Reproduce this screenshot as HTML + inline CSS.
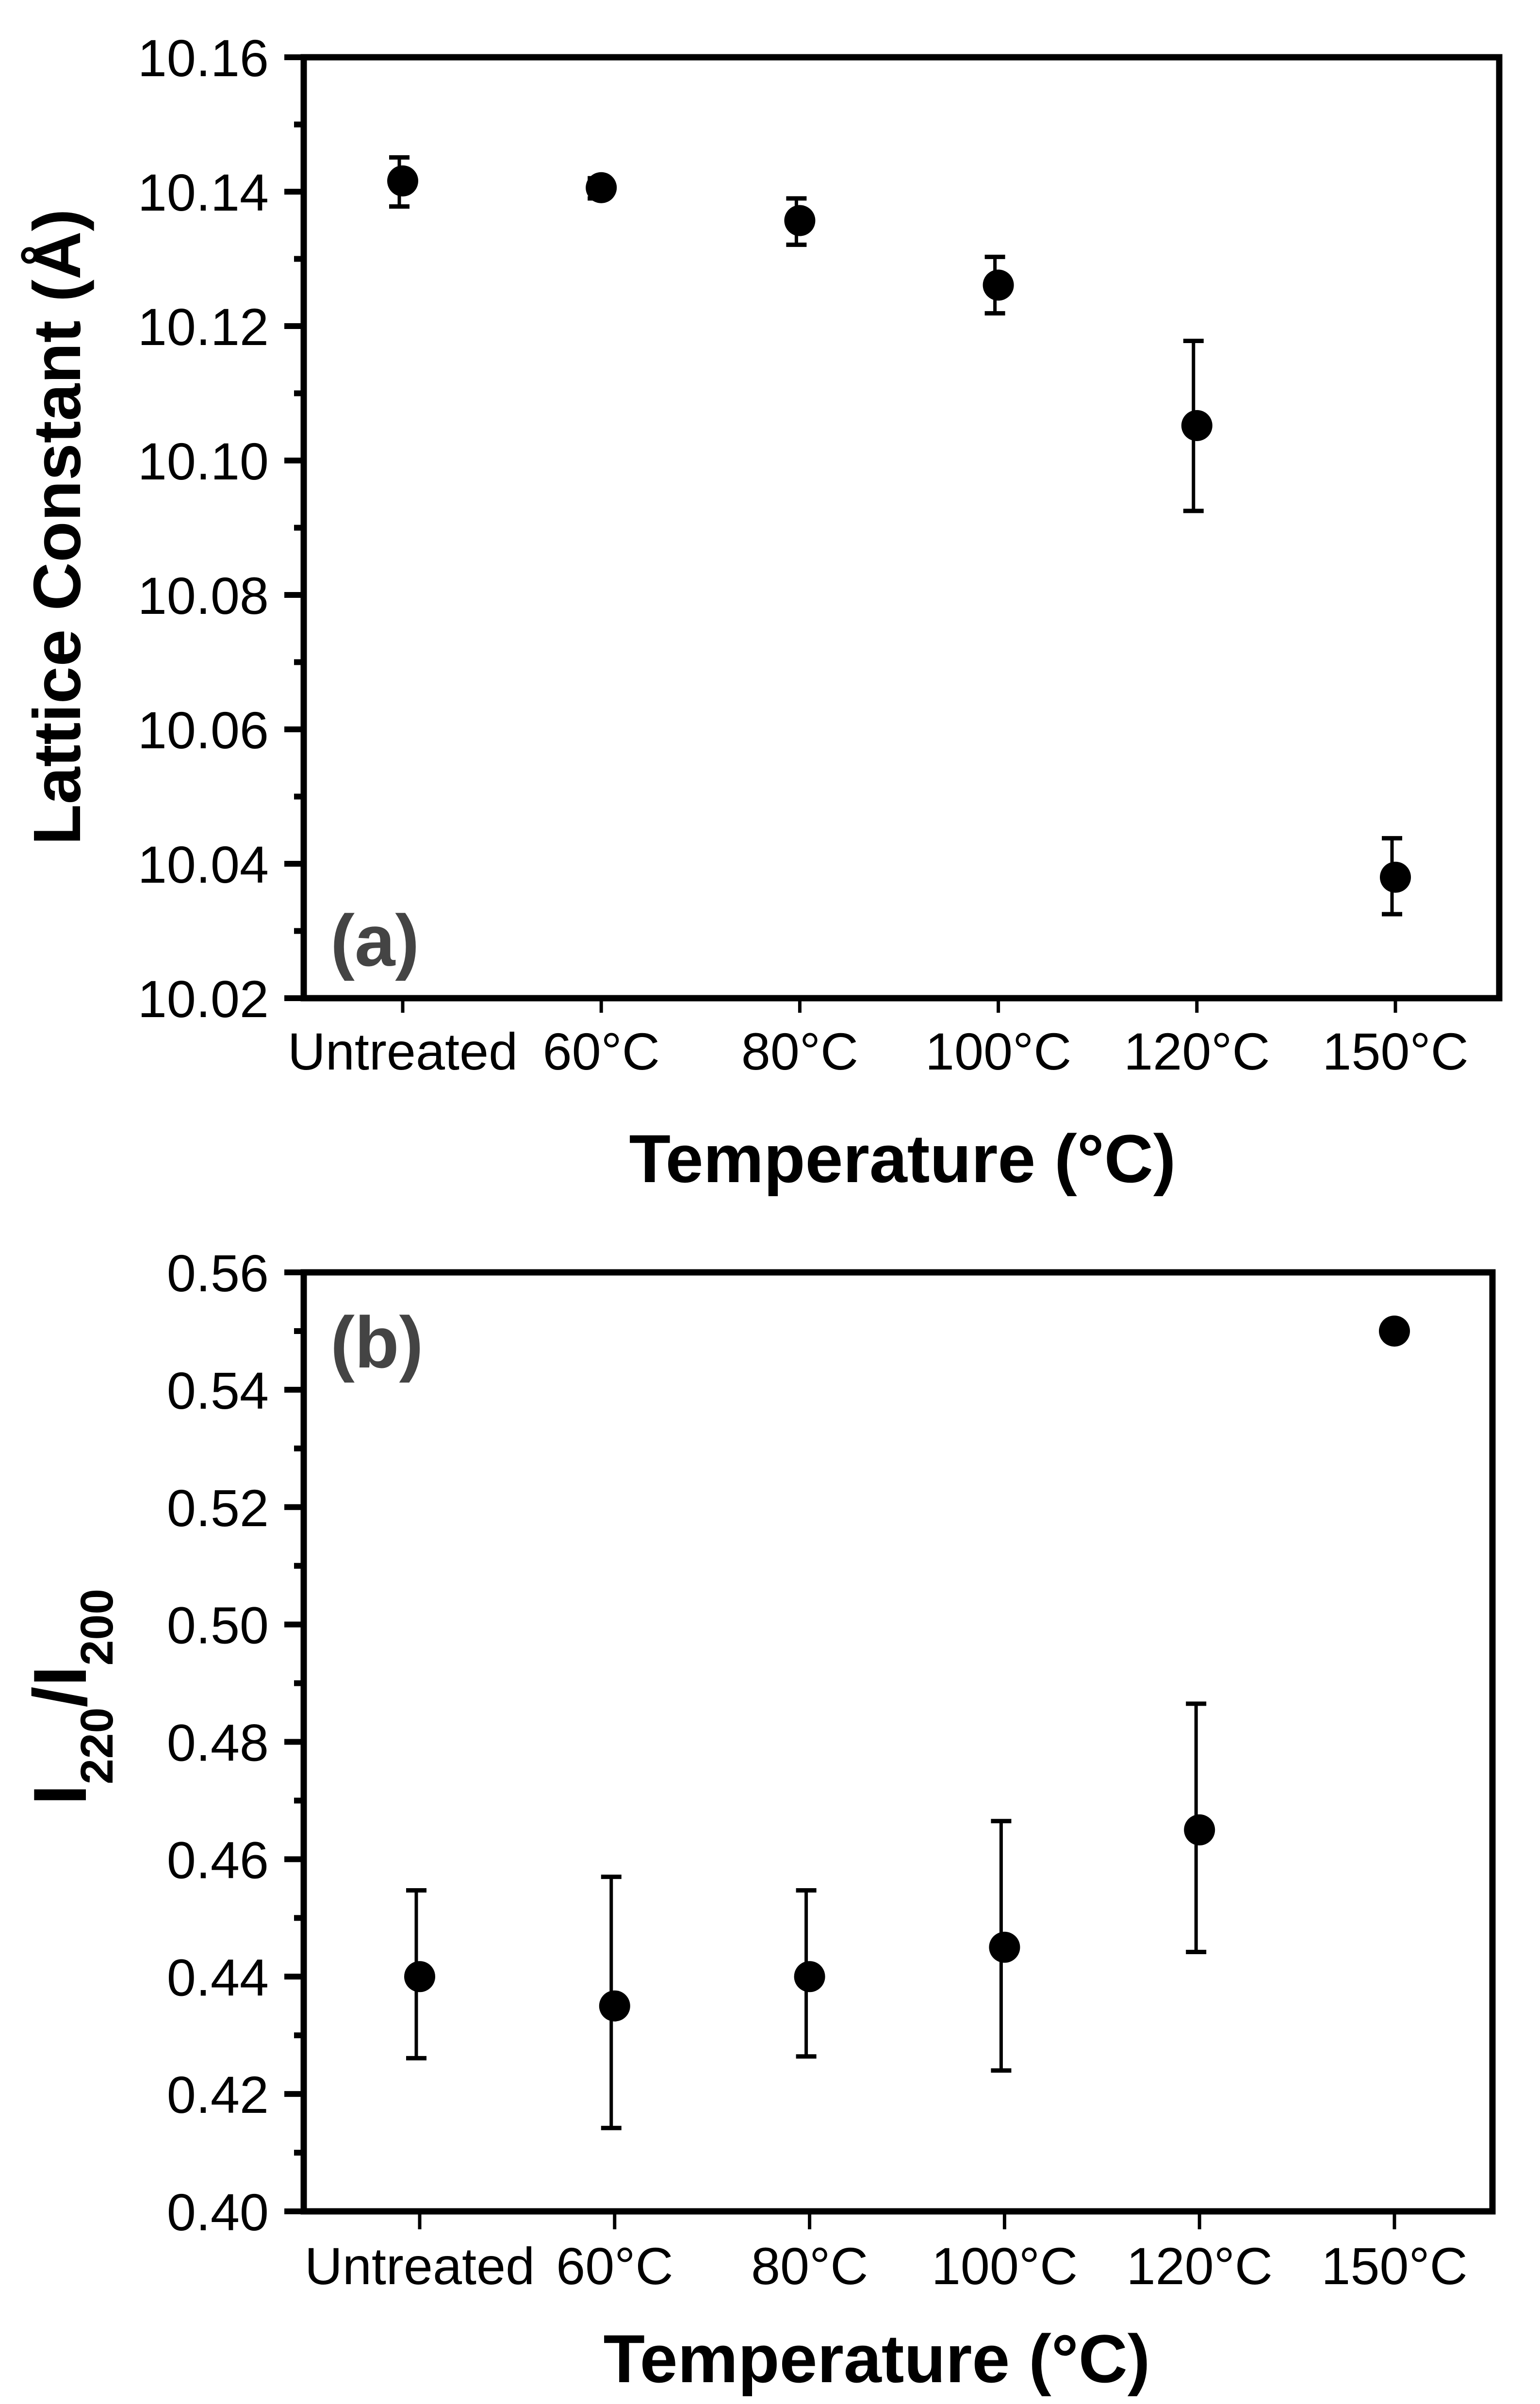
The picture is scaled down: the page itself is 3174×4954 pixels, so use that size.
<!DOCTYPE html>
<html><head><meta charset="utf-8"><style>
html,body{margin:0;padding:0;background:#fff;}
svg{display:block;}
text{font-family:"Liberation Sans",Arial,sans-serif;}
</style></head><body>
<svg id="chart" width="3174" height="4954" viewBox="0 0 3174 4954" xmlns="http://www.w3.org/2000/svg">
<rect width="3174" height="4954" fill="#fff"/>
<g id="pa"></g>
<g id="pb"></g>
<text transform="translate(165,1086) rotate(-90)" text-anchor="middle" font-size="138" font-weight="bold">Lattice Constant (Å)</text>
<text transform="translate(177,3497) rotate(-90)" text-anchor="middle" font-size="155" font-weight="bold">I<tspan font-size="95" dy="55">220</tspan><tspan dy="-55">/I</tspan><tspan font-size="95" dy="55">200</tspan></text>
</svg>
<script>
const categories = ["Untreated","60°C","80°C","100°C","120°C","150°C"];
const latticeValues = [10.1416,10.1406,10.1357,10.1261,10.1052,10.0380];
const latticeErrUp = [10.1451,10.1420,10.1390,10.1303,10.1178,10.0438];
const latticeErrDown = [10.1378,10.1390,10.1321,10.1219,10.0925,10.0325];
const latticeTicks = ["10.02","10.04","10.06","10.08","10.10","10.12","10.14","10.16"];
const ratioValues = [0.440,0.435,0.440,0.445,0.465,0.550];
const ratioErrUp = [0.4547,0.4570,0.4547,0.4665,0.4865,null];
const ratioErrDown = [0.4261,0.4142,0.4264,0.4240,0.4442,null];
const ratioTicks = ["0.40","0.42","0.44","0.46","0.48","0.50","0.52","0.54","0.56"];

const NS="http://www.w3.org/2000/svg";
function mk(parent,tag,attrs){const e=document.createElementNS(NS,tag);for(const k in attrs)e.setAttribute(k,attrs[k]);parent.appendChild(e);return e;}

function panel(g,cfg){
  const {L,R,T,B,x0,dx,ymin,ymax,ticks,vals,up,dn,tickLen,labelBase,titleBase,titleX,letter,letterY} = cfg;
  const yS=v=>B-(v-ymin)/(ymax-ymin)*(B-T);
  const xS=i=>x0+i*dx;
  const frame=mk(g,'rect',{x:L,y:T,width:R-L,height:B-T,fill:'none',stroke:'#000','stroke-width':13});
  
  
  const n=ticks.length;
  for(let i=0;i<n;i++){
    const v=parseFloat(ticks[i]);const y=yS(v);
    const t=mk(g,'line',{x1:L-40,x2:L,y1:y,y2:y,stroke:'#000','stroke-width':12});
    
    
    const lb=mk(g,'text',{x:L-72,y:y+39,'text-anchor':'end','font-size':108});
    lb.textContent=ticks[i];
    
    
    if(i<n-1){
      const ym=yS(v+(parseFloat(ticks[1])-parseFloat(ticks[0]))/2);
      const m=mk(g,'line',{x1:L-20,x2:L,y1:ym,y2:ym,stroke:'#000','stroke-width':12});
      
      
    }
  }
  categories.forEach((c,i)=>{
    const x=xS(i);
    const t=mk(g,'line',{x1:x,x2:x,y1:B,y2:B+tickLen,stroke:'#000','stroke-width':7});
    
    
    const lb=mk(g,'text',{x:x,y:labelBase,'text-anchor':'middle','font-size':108});
    lb.textContent=c;
    
    
    if(up[i]!=null){
      const e=mk(g,'line',{x1:x-7,x2:x-7,y1:yS(up[i]),y2:yS(dn[i]),stroke:'#000','stroke-width':7});
      
      
      [up[i],dn[i]].forEach(v=>{
        const cp=mk(g,'line',{x1:x-28,x2:x+14,y1:yS(v),y2:yS(v),stroke:'#000','stroke-width':9});
        
        
      });
    }
    const p=mk(g,'circle',{cx:x,cy:yS(vals[i]),r:32,fill:'#000'});
    
    
  });
  const tt=mk(g,'text',{x:titleX,y:titleBase,'text-anchor':'middle','font-size':140,'font-weight':'bold'});
  tt.textContent='Temperature (°C)';
  
  
  const pl=mk(g,'text',{x:681,y:letterY,'font-size':150,'font-weight':'bold',fill:'#444'});
  pl.textContent=letter;
  
  
}
panel(document.getElementById('pa'),{L:626,R:3090,T:118,B:2057,x0:830,dx:409.2,ymin:10.02,ymax:10.16,ticks:latticeTicks,vals:latticeValues,up:latticeErrUp,dn:latticeErrDown,tickLen:30,labelBase:2204,titleBase:2436,titleX:1860,letter:'(a)',letterY:1990});
panel(document.getElementById('pb'),{L:626,R:3076,T:2622,B:4557,x0:865,dx:401.8,ymin:0.40,ymax:0.56,ticks:ratioTicks,vals:ratioValues,up:ratioErrUp,dn:ratioErrDown,tickLen:37,labelBase:4707,titleBase:4909,titleX:1807,letter:'(b)',letterY:2818});
</script>
</body></html>
